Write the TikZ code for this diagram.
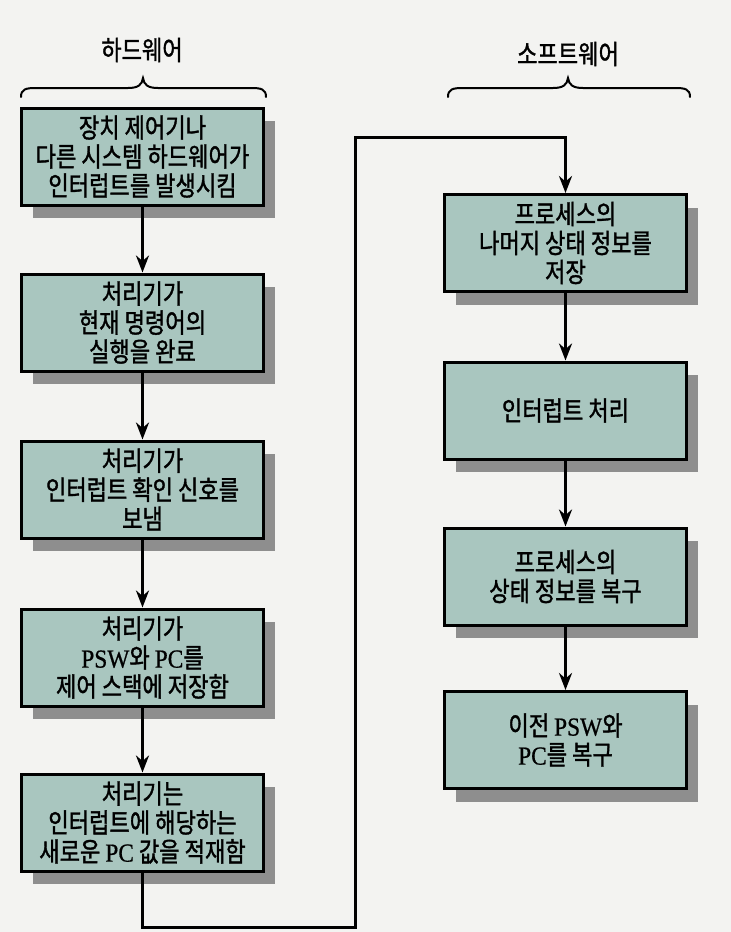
\documentclass[tikz,border=0pt]{standalone}
\usepackage{fontspec}
\newfontfamily\kr[FakeStretch=0.82,FakeBold=1.3]{Noto Sans CJK KR}
\newfontfamily\lat[FakeStretch=0.9,FakeBold=0.6]{Liberation Serif}
\usetikzlibrary{shadows,arrows.meta}
\definecolor{boxfill}{HTML}{A9C6BF}
\definecolor{shadowgray}{HTML}{8E8E8E}
\definecolor{pagebg}{HTML}{F3F3F1}
\tikzset{
  stepbox/.style={draw=black, line width=3pt, fill=boxfill, minimum width=242pt, minimum height=97pt,
    align=center, inner sep=0pt,
    font=\kr\fontsize{27}{29}\selectfont,
    drop shadow={shadow xshift=11pt, shadow yshift=-13pt, fill=shadowgray, opacity=1}},
  head/.style={font=\kr\fontsize{27}{29}\selectfont, inner sep=0pt},
  conn/.style={line width=3pt, draw=black},
  arr/.style={conn, -{Stealth[length=17pt,width=13pt]}},
  bracestyle/.style={line width=2pt, line cap=round}
}
\newcommand{\latw}[1]{{\lat\fontsize{26}{29}\selectfont #1}}
\begin{document}
\begin{tikzpicture}[x=1pt,y=-1pt]
\fill[pagebg] (0,0) rectangle (731,932);
\useasboundingbox (0,0) rectangle (731,932);
% headings
\node[head] (hw) at (142,50) {하드웨어};
\node[head] (sw) at (568,54) {소프트웨어};
% braces
\draw[bracestyle] (21,97) .. controls (21,89) and (26,88) .. (36,88) -- (128,88) .. controls (138,88) and (142,85) .. (143,78)
  .. controls (144,85) and (148,88) .. (158,88) -- (251,88) .. controls (261,88) and (266,89) .. (266,97);
\draw[bracestyle] (448,97) .. controls (448,89) and (453,88) .. (463,88) -- (553,88) .. controls (563,88) and (567,85) .. (568,78)
  .. controls (569,85) and (573,88) .. (583,88) -- (675,88) .. controls (685,88) and (690,89) .. (690,97);
% left column
\node[stepbox] (b1) at (142.5,156.5) {장치 제어기나\\다른 시스템 하드웨어가\\인터럽트를 발생시킴};
\node[stepbox] (b2) at (142.5,322.5) {처리기가\\현재 명령어의\\실행을 완료};
\node[stepbox] (b3) at (142.5,489.5) {처리기가\\인터럽트 확인 신호를\\보냄};
\node[stepbox] (b4) at (142.5,657.5) {처리기가\\\latw{PSW}와 \latw{PC}를\\제어 스택에 저장함};
\node[stepbox] (b5) at (142.5,822.5) {처리기는\\인터럽트에 해당하는\\새로운 \latw{PC} 값을 적재함};
% right column
\node[stepbox] (r1) at (565.5,243) {프로세스의\\나머지 상태 정보를\\저장};
\node[stepbox] (r2) at (565.5,410.5) {인터럽트 처리};
\node[stepbox] (r3) at (565.5,576.5) {프로세스의\\상태 정보를 복구};
\node[stepbox] (r4) at (565.5,740) {이전 \latw{PSW}와\\\latw{PC}를 복구};
% connectors
\draw[arr] (b1) -- (b2);
\draw[arr] (b2) -- (b3);
\draw[arr] (b3) -- (b4);
\draw[arr] (b4) -- (b5);
\draw[arr] (r1) -- (r2);
\draw[arr] (r2) -- (r3);
\draw[arr] (r3) -- (r4);
\coordinate (c1) at (142.5,927);
\coordinate (c2) at (355,927);
\coordinate (c3) at (355,137);
\coordinate (c4) at (565.5,137);
\draw[arr, line join=miter] (b5.south) -- (c1) -- (c2) -- (c3) -- (c4) -- (r1.north);
\end{tikzpicture}
\end{document}
